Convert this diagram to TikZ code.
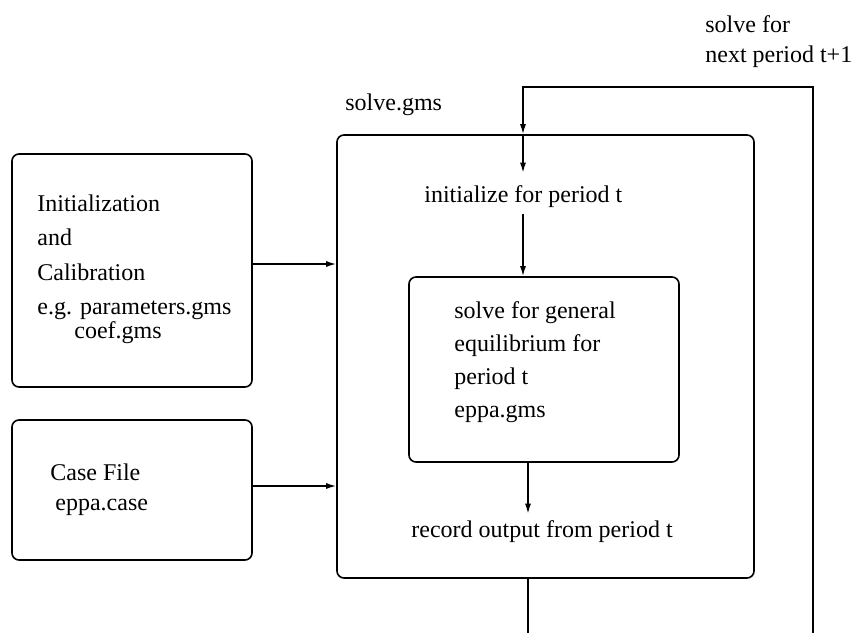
\documentclass[tikz,border=0pt]{standalone}
\usepackage{fontspec}
\setmainfont{Liberation Serif}
\usepackage{tikz}
\usetikzlibrary{positioning}
\usetikzlibrary{arrows.meta}
\usetikzlibrary{fit}
\tikzset{
    mybox/.style = {rectangle, rounded corners=3.5pt, line width=0.8pt, draw=black, inner sep=0pt},
    mytext/.style = {align=left, inner sep=1pt, anchor=base west, font=\fontsize{12pt}{16.5pt}\selectfont},
    edgen/.style = {-{Latex[length=5pt,width=3pt]}, line width=0.75pt},
    edgel/.style = {line width=0.75pt}
}

\begin{document}
\begin{tikzpicture}[x=0.5pt, y=-0.5pt]
  \useasboundingbox (0,0) rectangle (851,633);

  % boxes
  \node[mybox, fit={(12,154) (252,387)}] (init) {};
  \node[mybox, fit={(12,420) (252,560)}] (case) {};
  \node[mybox, fit={(337,135) (754,578)}] (main) {};
  \node[mybox, fit={(409,277) (679,462)}] (inner) {};

  % texts (multi-line ones sit on their last baseline)
  \node[mytext] (initT) at (35,338) {Initialization\\[0.5pt] and\\[1pt] Calibration\\[0.5pt] e.g. parameters.gms\\[-4.5pt] \hspace{18.5pt}coef.gms};
  \node[mytext] (caseT) at (48,510) {Case File\\[-1.5pt] \hspace{2.5pt}eppa.case};
  \node[mytext] (solveT) at (343,110) {solve.gms};
  \node[mytext] (nextT) at (703,62) {solve for\\[-1.5pt] next period t+1};
  \node[mytext] (initp) at (422,202) {initialize for period t};
  \node[mytext] (innerT) at (452,417) {solve for general\\ equilibrium for\\ period t\\ eppa.gms};
  \node[mytext] (record) at (409,537) {record output from period t};

  % loop
  \coordinate (topL) at (523,87);
  \coordinate (topR) at (813,87);
  \coordinate (botR) at (813,633);
  \coordinate (botx) at (528,633);

  \draw[edgen] ([yshift=3.25pt]init.east) -- ([yshift=3.25pt]init.east -| main.west);
  \draw[edgen] ([yshift=2pt]case.east) -- ([yshift=2pt]case.east -| main.west);
  \draw[edgen] (botR) -- (topR) -- (topL) -- (topL |- main.north);
  \draw[edgen] (topL |- main.north) -- ([yshift=5pt]initp.north -| topL);
  \draw[edgen] ([yshift=-2pt]initp.south -| topL) -- (inner.north -| topL);
  \draw[edgen] (inner.south -| botx) -- ([yshift=2pt]record.north -| botx);
  \draw[edgel] (main.south -| botx) -- (botx);

\end{tikzpicture}
\end{document}
